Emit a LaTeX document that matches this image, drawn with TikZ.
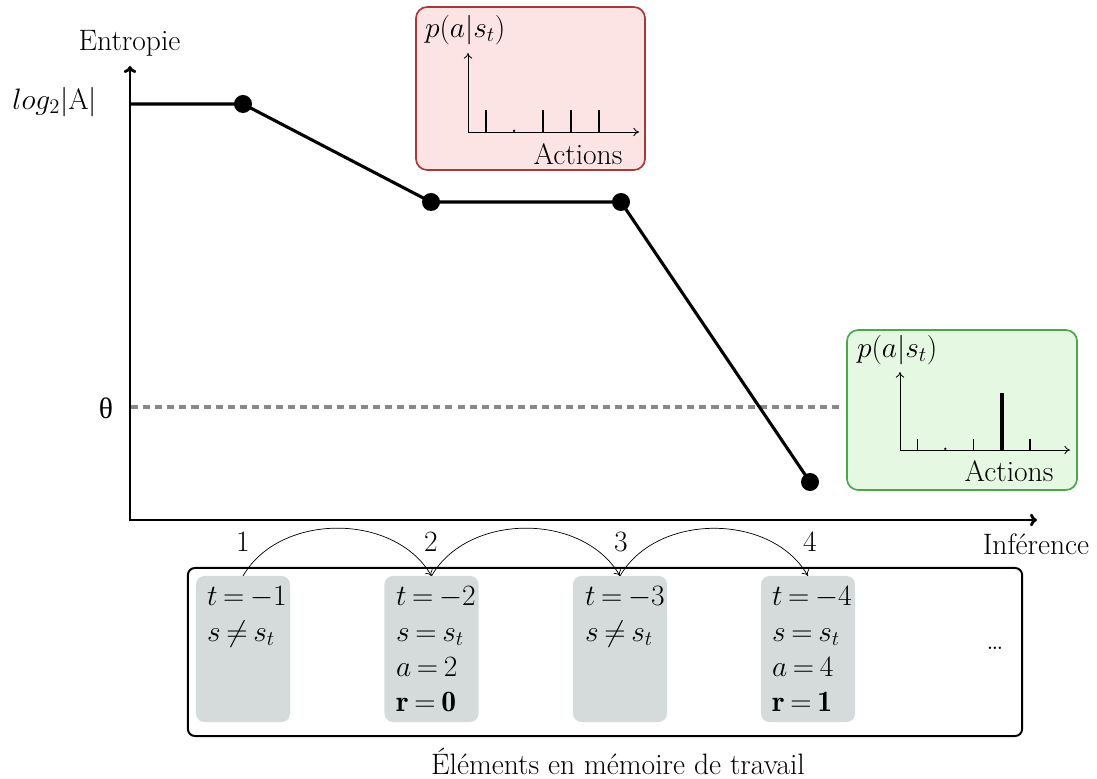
\RequirePackage{fix-cm}
\documentclass[tikz,border=0pt]{standalone}
\usepackage{fontspec}
\usepackage{amsmath}
\newfontfamily\thetafont{Liberation Serif}
\usetikzlibrary{arrows.meta}
\definecolor{boxgray}{HTML}{D5DBDB}
\definecolor{redfill}{HTML}{FDE4E4}
\definecolor{redline}{HTML}{A63A3A}
\definecolor{greenfill}{HTML}{E5F8E2}
\definecolor{greenline}{HTML}{4CA64C}
\definecolor{dashgray}{HTML}{888888}
\newcommand{\tightmath}{\thickmuskip=3.5mu plus 1mu\medmuskip=3mu}
\tikzset{
  every node/.style={font=\fontsize{21}{25}\selectfont\tightmath, inner sep=0pt, outer sep=0pt},
  axisline/.style={line width=2pt},
  curveline/.style={line width=2.2pt, line join=round},
  dotnode/.style={circle, fill=black, minimum size=0.45cm},
  threshold/.style={dashgray, line width=2.2pt, dash pattern=on 5pt off 3.6pt},
  membox/.style={draw=black, line width=1.4pt, rounded corners=5pt, minimum width=20.85cm, minimum height=4.2cm},
  graybox/.style={fill=boxgray, rounded corners=6pt, minimum width=2.35cm, minimum height=3.65cm},
  hop/.style={-{To[length=4pt,width=6pt]}, line width=0.5pt},
  redpanel/.style={draw=redline, fill=redfill, line width=1.2pt, rounded corners=8pt, minimum width=5.725cm, minimum height=4.075cm},
  greenpanel/.style={draw=greenline, fill=greenfill, line width=1.2pt, rounded corners=8pt, minimum width=5.75cm, minimum height=4cm},
  miniaxis/.style={-{To[length=4pt,width=6pt]}, line width=0.6pt},
  bar/.style={line width=1.5pt},
  bigbar/.style={line width=2.8pt},
  thinbar/.style={line width=1pt},
  memtext/.style={anchor=base west},
}
\begin{document}
\begin{tikzpicture}[x=0.025cm,y=0.025cm]
\useasboundingbox (0,0) rectangle (1097,778);

% main axes
\coordinate (O) at (130,258);
\coordinate (ytip) at (130,712);
\coordinate (xtip) at (1037,258);
\draw[axisline, {To[length=5pt,width=9pt]}-{To[length=5pt,width=9pt]}] (ytip) -- (O) -- (xtip);
\node (ylab) at (129.5,735) {Entropie};
\node (xlab) at (1036,234) {Inférence};
\node[anchor=east] (loglab) at (97,676) {$log_2|\mathrm{A}|$};
\node (thetalab) at (106,370) {\thetafont θ};

% threshold
\coordinate (th0) at (131,371);
\coordinate (th1) at (842,371);
\draw[threshold] (th0) -- (th1);

% entropy curve
\coordinate (s0) at (130,674);
\node[dotnode] (d1) at (243,674) {};
\node[dotnode] (d2) at (431,576) {};
\node[dotnode] (d3) at (621,576) {};
\node[dotnode] (d4) at (810,296) {};
\draw[curveline] (s0) -- (d1.center) -- (d2.center) -- (d3.center) -- (d4.center);

% x labels
\node (n1) at (243,236) {1};
\node (n2) at (431,236) {2};
\node (n3) at (621,236) {3};
\node (n4) at (810,236) {4};

% memory box
\node[membox] (mem) at (605,126) {};
\node[graybox] (g1) at (243,129) {};
\node[graybox] (g2) at (431.5,129) {};
\node[graybox] (g3) at (620,129) {};
\node[graybox] (g4) at (808,129) {};

\node[memtext] (t1a) at (207,173) {$t=-1$};
\node[memtext] (t1b) at (207,137) {$s\neq s_t$};

\node[memtext] (t2a) at (396,173) {$t=-2$};
\node[memtext] (t2b) at (396,137) {$s=s_t$};
\node[memtext] (t2c) at (396,102) {$a=2$};
\node[memtext] (t2d) at (396,67) {$\mathbf{r}=\mathbf{0}$};

\node[memtext] (t3a) at (585,173) {$t=-3$};
\node[memtext] (t3b) at (585,137) {$s\neq s_t$};

\node[memtext] (t4a) at (772,173) {$t=-4$};
\node[memtext] (t4b) at (772,137) {$s=s_t$};
\node[memtext] (t4c) at (772,102) {$a=4$};
\node[memtext] (t4d) at (772,67) {$\mathbf{r}=\mathbf{1}$};

\node (dots) at (995,130) {\ldots};
\node (memlab) at (618,17) {Éléments en mémoire de travail};

% hops
\draw[hop] (g1.north) to[out=60,in=120] (g2.north);
\draw[hop] (g2.north) to[out=60,in=120] (g3.north);
\draw[hop] (g3.north) to[out=60,in=120] (g4.north);

% red panel
\node[redpanel] (rp) at (530.5,689.5) {};
\node[anchor=west] (rpt) at (425,748) {$p(a|s_t)$};
\coordinate (rO) at (468,646);
\coordinate (rY) at (468,725);
\coordinate (rX) at (639,646);
\draw[miniaxis] (rO) -- (rY);
\draw[miniaxis] (rO) -- (rX);
\coordinate (rb1) at (485.7,646); \coordinate (rb1t) at (485.7,668);
\coordinate (rb3) at (542.7,646); \coordinate (rb3t) at (542.7,668);
\coordinate (rb4) at (570.7,646); \coordinate (rb4t) at (570.7,668);
\coordinate (rb5) at (598.7,646); \coordinate (rb5t) at (598.7,668);
\draw[bar] (rb1) -- (rb1t);
\draw[bar] (rb3) -- (rb3t);
\draw[bar] (rb4) -- (rb4t);
\draw[bar] (rb5) -- (rb5t);
\fill (514,647.2) circle (1.3);
\node (ract) at (578,624) {Actions};

% green panel
\node[greenpanel] (gp) at (962,368) {};
\node[anchor=west] (gpt) at (857,428) {$p(a|s_t)$};
\coordinate (gO) at (900,328);
\coordinate (gY) at (900,406);
\coordinate (gX) at (1070,328);
\draw[miniaxis] (gO) -- (gY);
\draw[miniaxis] (gO) -- (gX);
\coordinate (gb1) at (917.3,328); \coordinate (gb1t) at (917.3,339);
\coordinate (gb3) at (973.3,328); \coordinate (gb3t) at (973.3,339);
\coordinate (gb4) at (1001.7,328); \coordinate (gb4t) at (1001.7,385);
\coordinate (gb5) at (1030,328); \coordinate (gb5t) at (1030,339);
\draw[thinbar] (gb1) -- (gb1t);
\draw[thinbar] (gb3) -- (gb3t);
\draw[bigbar] (gb4) -- (gb4t);
\draw[thinbar] (gb5) -- (gb5t);
\fill (945.3,329.2) circle (1.3);
\node (gact) at (1009,307) {Actions};
\end{tikzpicture}
\end{document}
